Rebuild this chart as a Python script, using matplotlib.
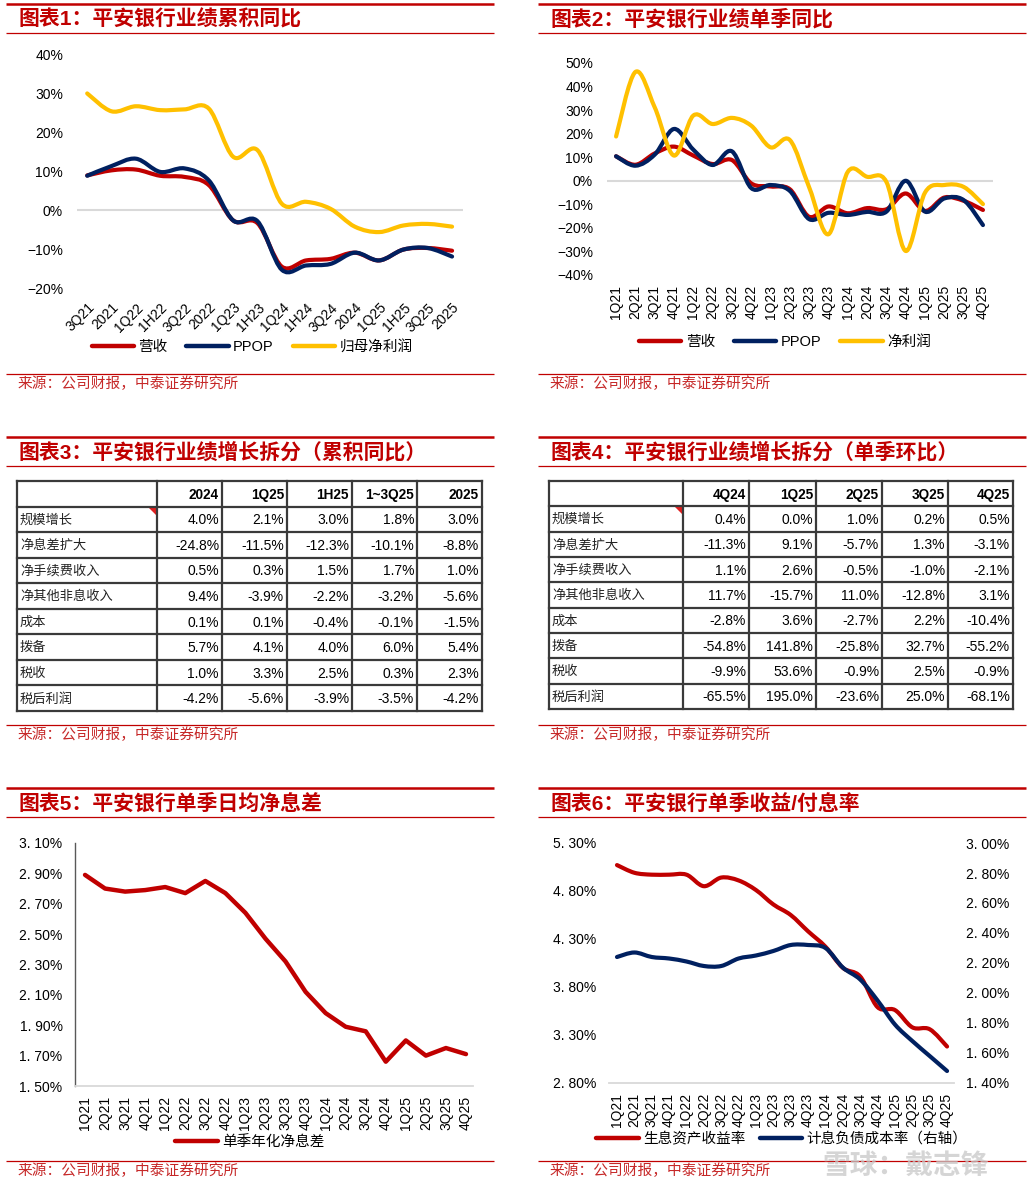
import numpy as np
import matplotlib
matplotlib.use('Agg')
import matplotlib.pyplot as plt
from matplotlib.path import Path
from matplotlib.patches import PathPatch, Polygon
from matplotlib.lines import Line2D

# ============================================================
# 字体 / 颜色
# ============================================================
plt.rcParams['font.family'] = ['Liberation Sans', 'Noto Sans CJK SC', 'DejaVu Sans']
plt.rcParams['axes.unicode_minus'] = True

W, H = 1029, 1188
RED = '#C00000'
NAVY = '#002060'
GOLD = '#FFC000'
SRC = '来源：公司财报，中泰证券研究所'

# ============================================================
# 数据
# ============================================================
# 图表1 累积同比
cum_labels = ['3Q21', '2021', '1Q22', '1H22', '3Q22', '2022', '1Q23', '1H23',
              '1Q24', '1H24', '3Q24', '2024', '1Q25', '1H25', '3Q25', '2025']
cum_rev = [9.0, 10.3, 10.5, 8.9, 8.6, 6.5, -2.6, -3.3,
           -14.5, -12.9, -12.5, -10.9, -12.9, -10.1, -9.7, -10.4]
cum_ppop = [8.9, 11.4, 13.3, 9.9, 10.8, 7.7, -2.6, -2.8,
            -15.3, -14.2, -13.8, -10.9, -12.9, -10.1, -9.7, -11.9]
cum_np = [30.1, 25.5, 26.8, 25.8, 26.0, 26.2, 13.8, 15.5,
          1.7, 2.2, 0.4, -4.2, -5.6, -3.9, -3.5, -4.2]

# 单季度
q_labels = ['1Q21', '2Q21', '3Q21', '4Q21', '1Q22', '2Q22', '3Q22', '4Q22',
            '1Q23', '2Q23', '3Q23', '4Q23', '1Q24', '2Q24', '3Q24', '4Q24',
            '1Q25', '2Q25', '3Q25', '4Q25']

# 图表2 单季同比
q_rev = [10.4, 6.8, 11.6, 14.5, 10.7, 7.1, 8.8, -1.1, -2.4, -3.6,
         -15.3, -10.9, -13.8, -11.6, -12.1, -5.4, -12.8, -7.1, -8.5, -12.4]
q_ppop = [10.4, 6.4, 11.1, 22.0, 13.2, 6.7, 12.5, -3.1, -1.8, -4.3,
          -16.3, -13.6, -14.5, -13.2, -13.1, 0.0, -13.1, -7.5, -8.2, -18.8]
q_np = [18.8, 46.2, 31.2, 10.7, 27.7, 24.1, 26.7, 23.4, 14.2, 17.3,
        -2.8, -22.7, 3.8, 1.7, -0.5, -29.8, -5.0, -1.8, -2.6, -9.9]

# 图表3/4 业绩增长拆分
row_names = ['规模增长', '净息差扩大', '净手续费收入', '净其他非息收入',
             '成本', '拨备', '税收', '税后利润']
t3_cols = ['2024', '1Q25', '1H25', '1~3Q25', '2025']
t3_vals = [[4.0, 2.1, 3.0, 1.8, 3.0],
           [-24.8, -11.5, -12.3, -10.1, -8.8],
           [0.5, 0.3, 1.5, 1.7, 1.0],
           [9.4, -3.9, -2.2, -3.2, -5.6],
           [0.1, 0.1, -0.4, -0.1, -1.5],
           [5.7, 4.1, 4.0, 6.0, 5.4],
           [1.0, 3.3, 2.5, 0.3, 2.3],
           [-4.2, -5.6, -3.9, -3.5, -4.2]]
t4_cols = ['4Q24', '1Q25', '2Q25', '3Q25', '4Q25']
t4_vals = [[0.4, 0.0, 1.0, 0.2, 0.5],
           [-11.3, 9.1, -5.7, 1.3, -3.1],
           [1.1, 2.6, -0.5, -1.0, -2.1],
           [11.7, -15.7, 11.0, -12.8, 3.1],
           [-2.8, 3.6, -2.7, 2.2, -10.4],
           [-54.8, 141.8, -25.8, 32.7, -55.2],
           [-9.9, 53.6, -0.9, 2.5, -0.9],
           [-65.5, 195.0, -23.6, 25.0, -68.1]]

# 图表5 单季年化净息差 (%)
nim = [2.89, 2.80, 2.78, 2.79, 2.81, 2.77, 2.85, 2.77, 2.64, 2.47,
       2.32, 2.12, 1.98, 1.89, 1.86, 1.66, 1.80, 1.70, 1.75, 1.71]

# 图表6 生息资产收益率 / 计息负债成本率 (%)
asset_yield = [5.07, 4.99, 4.97, 4.97, 4.97, 4.85, 4.94, 4.91, 4.81, 4.66,
               4.55, 4.38, 4.22, 4.00, 3.91, 3.59, 3.56, 3.38, 3.36, 3.18]
liab_cost = [2.24, 2.27, 2.24, 2.23, 2.21, 2.18, 2.18, 2.23, 2.25, 2.28,
             2.32, 2.32, 2.30, 2.17, 2.09, 1.95, 1.79, 1.68, 1.58, 1.48]

# ============================================================
# 工具函数
# ============================================================
fig = plt.figure(figsize=(W / 100, H / 100), dpi=100)
fig.patch.set_facecolor('white')

deco = fig.add_axes([0, 0, 1, 1])
deco.set_xlim(0, W)
deco.set_ylim(H, 0)
deco.axis('off')


def px_axes(x0, y0, x1, y1):
    ax = fig.add_axes([x0 / W, 1 - y1 / H, (x1 - x0) / W, (y1 - y0) / H])
    ax.patch.set_visible(False)
    return ax


def frame(x0, x1, y_top, y_tline, y_sline, title):
    deco.plot([x0, x1], [y_top, y_top], color=RED, lw=1.8, solid_capstyle='butt')
    deco.plot([x0, x1], [y_tline, y_tline], color=RED, lw=0.9, solid_capstyle='butt')
    deco.plot([x0, x1], [y_sline, y_sline], color=RED, lw=0.9, solid_capstyle='butt')
    deco.text(x0 + 13, (y_top + y_tline) / 2 + 1, title, color=RED, fontsize=15,
              fontweight='bold', ha='left', va='center')
    deco.text(x0 + 12, y_sline + 10, SRC, color='#C62828', fontsize=10.6,
              ha='left', va='center')


def smooth_line(ax, y, color, lw=3.0, z=3):
    # Excel 风格平滑曲线 (Catmull-Rom -> Bezier)
    y = np.asarray(y, float)
    p = np.column_stack([np.arange(len(y)), y])
    ext = np.vstack([p[0], p, p[-1]])
    verts = [p[0]]
    codes = [Path.MOVETO]
    for i in range(len(p) - 1):
        p0, p1, p2, p3 = ext[i], ext[i + 1], ext[i + 2], ext[i + 3]
        verts += [p1 + (p2 - p0) / 6, p2 - (p3 - p1) / 6, p2]
        codes += [Path.CURVE4] * 3
    ax.add_patch(PathPatch(Path(verts, codes), fill=False, edgecolor=color, lw=lw,
                           capstyle='round', joinstyle='round', zorder=z))


def pct(v, nd=0):
    s = f'{abs(v):.{nd}f}%'
    return ('\u2212' + s) if v < 0 else s


def handle(c):
    return Line2D([], [], color=c, lw=3.2, solid_capstyle='round')


# ============================================================
# 边框 / 标题
# ============================================================
frame(6, 494, 4, 33, 374, '图表1：平安银行业绩累积同比')
frame(538, 1026, 4, 33, 374, '图表2：平安银行业绩单季同比')
frame(6, 494, 437, 466, 725, '图表3：平安银行业绩增长拆分（累积同比）')
frame(538, 1026, 437, 466, 725, '图表4：平安银行业绩增长拆分（单季环比）')
frame(6, 494, 788, 817, 1161, '图表5：平安银行单季日均净息差')
frame(538, 1026, 788, 817, 1161, '图表6：平安银行单季收益/付息率')

# ============================================================
# 图表1
# ============================================================
ax1 = px_axes(77, 55, 463, 288)
ax1.set_xlim(-0.42, 15.45)
ax1.set_ylim(-20, 40)
ax1.axhline(0, color='#D9D9D9', lw=1.5, zorder=1)
smooth_line(ax1, cum_rev, RED)
smooth_line(ax1, cum_ppop, NAVY)
smooth_line(ax1, cum_np, GOLD)
for s in ax1.spines.values():
    s.set_visible(False)
yt = list(range(-20, 41, 10))
ax1.set_yticks(yt)
ax1.set_yticklabels([pct(v) for v in yt])
ax1.set_xticks(range(len(cum_labels)))
ax1.set_xticklabels(cum_labels, rotation=45, ha='right', rotation_mode='anchor')
ax1.tick_params(length=0, labelsize=10)
ax1.tick_params(axis='y', pad=10)
ax1.tick_params(axis='x', pad=9)
fig.legend([handle(RED), handle(NAVY), handle(GOLD)], ['营收', 'PPOP', '归母净利润'],
           loc='center', bbox_to_anchor=(252 / W, 1 - 347 / H), ncol=3, frameon=False,
           fontsize=10.5, handlelength=2.9, columnspacing=1.3, handletextpad=0.3)

# ============================================================
# 图表2
# ============================================================
ax2 = px_axes(607, 63, 993, 275)
ax2.set_xlim(-0.47, 19.52)
ax2.set_ylim(-40, 50)
ax2.axhline(0, color='#D9D9D9', lw=1.5, zorder=1)
smooth_line(ax2, q_rev, RED)
smooth_line(ax2, q_ppop, NAVY)
smooth_line(ax2, q_np, GOLD)
for s in ax2.spines.values():
    s.set_visible(False)
yt = list(range(-40, 51, 10))
ax2.set_yticks(yt)
ax2.set_yticklabels([pct(v) for v in yt])
ax2.set_xticks(range(len(q_labels)))
ax2.set_xticklabels(q_labels, rotation=90)
ax2.tick_params(length=0, labelsize=10)
ax2.tick_params(axis='y', pad=10)
ax2.tick_params(axis='x', pad=7)
fig.legend([handle(RED), handle(NAVY), handle(GOLD)], ['营收', 'PPOP', '净利润'],
           loc='center', bbox_to_anchor=(785 / W, 1 - 342 / H), ncol=3, frameon=False,
           fontsize=10.5, handlelength=2.9, columnspacing=1.3, handletextpad=0.3)

# ============================================================
# 图表3 / 图表4 表格
# ============================================================
def draw_table(x_edges, y0, y1, cols, vals):
    n = len(row_names) + 1
    ys = np.linspace(y0, y1, n + 1)
    for y in ys:
        deco.plot([x_edges[0], x_edges[-1]], [y, y], color='#3A3A3A', lw=1.6,
                  solid_capstyle='projecting')
    for x in x_edges:
        deco.plot([x, x], [y0, y1], color='#3A3A3A', lw=1.6, solid_capstyle='projecting')
    for j, c in enumerate(cols):
        deco.text(x_edges[j + 2] - 3, (ys[0] + ys[1]) / 2 + 1, c, ha='right', va='center',
                  fontsize=9.8, fontweight='bold')
    for i, name in enumerate(row_names):
        yc = (ys[i + 1] + ys[i + 2]) / 2 + 1
        deco.text(x_edges[0] + 3, yc, name, ha='left', va='center', fontsize=9.5,
                  color='#222222')
        for j, v in enumerate(vals[i]):
            deco.text(x_edges[j + 2] - 3, yc, f'{v:.1f}%', ha='right', va='center',
                      fontsize=10)
    # 批注小三角
    xr, yt0 = x_edges[1] - 1, ys[1] + 1
    deco.add_patch(Polygon([(xr - 7, yt0), (xr, yt0), (xr, yt0 + 7)], closed=True,
                           color='#E02020', lw=0))


draw_table([17, 157, 222, 287, 352, 417, 482], 481, 711, t3_cols, t3_vals)
draw_table([549, 683, 749, 816, 882, 948, 1013], 481, 709, t4_cols, t4_vals)

# ============================================================
# 图表5
# ============================================================
ax5 = px_axes(75, 843, 473, 1086)
ax5.plot(range(len(nim)), nim, color=RED, lw=3.2, solid_joinstyle='round',
         solid_capstyle='round')
ax5.set_xlim(-0.5, 19.35)
ax5.set_ylim(1.5, 3.1)
for k in ['top', 'right']:
    ax5.spines[k].set_visible(False)
ax5.spines['left'].set_color('#595959')
ax5.spines['left'].set_linewidth(1.0)
ax5.spines['bottom'].set_color('#D9D9D9')
ax5.spines['bottom'].set_linewidth(1.3)
yt = np.round(np.arange(1.5, 3.11, 0.2), 2)
ax5.set_yticks(yt)
ax5.set_yticklabels([f'{v:.2f}%'.replace('.', '. ') for v in yt])
ax5.set_xticks(range(len(q_labels)))
ax5.set_xticklabels(q_labels, rotation=90)
ax5.tick_params(length=0, labelsize=10)
ax5.tick_params(axis='y', pad=9)
ax5.tick_params(axis='x', pad=7)
fig.legend([handle(RED)], ['单季年化净息差'], loc='center',
           bbox_to_anchor=(250 / W, 1 - 1142 / H), frameon=False, fontsize=10.5,
           handlelength=2.9, handletextpad=0.3)

# ============================================================
# 图表6
# ============================================================
ax6 = px_axes(609, 843, 954, 1083)
ax6r = ax6.twinx()
ax6r.patch.set_visible(False)
smooth_line(ax6, asset_yield, RED)
smooth_line(ax6r, liab_cost, NAVY)
ax6.set_xlim(-0.46, 19.4)
ax6.set_ylim(2.8, 5.3)
ax6r.set_ylim(1.4, 3.0)
for a in (ax6, ax6r):
    for k in ['top', 'right', 'left']:
        a.spines[k].set_visible(False)
    a.tick_params(length=0, labelsize=10)
ax6r.spines['bottom'].set_visible(False)
ax6.spines['bottom'].set_color('#D9D9D9')
ax6.spines['bottom'].set_linewidth(1.3)
yl = np.round(np.arange(2.8, 5.31, 0.5), 2)
ax6.set_yticks(yl)
ax6.set_yticklabels([f'{v:.2f}%'.replace('.', '. ') for v in yl])
yr = np.round(np.arange(1.4, 3.01, 0.2), 2)
ax6r.set_yticks(yr)
ax6r.set_yticklabels([f'{v:.2f}%'.replace('.', '. ') for v in yr])
ax6.set_xticks(range(len(q_labels)))
ax6.set_xticklabels(q_labels, rotation=90)
ax6.tick_params(axis='y', pad=9)
ax6r.tick_params(axis='y', pad=9)
ax6.tick_params(axis='x', pad=7)
fig.legend([handle(RED), handle(NAVY)], ['生息资产收益率', '计息负债成本率（右轴）'],
           loc='center', bbox_to_anchor=(782 / W, 1 - 1139 / H), ncol=2, frameon=False,
           fontsize=10.5, handlelength=2.9, columnspacing=1.0, handletextpad=0.3)

# 水印
deco.text(822, 1167, '雪球：戴志锋', fontsize=20, color='#C8C8C8', alpha=0.75,
          ha='left', va='center', fontweight='bold', zorder=10)

fig.savefig('out.png', dpi=100, facecolor='white')
